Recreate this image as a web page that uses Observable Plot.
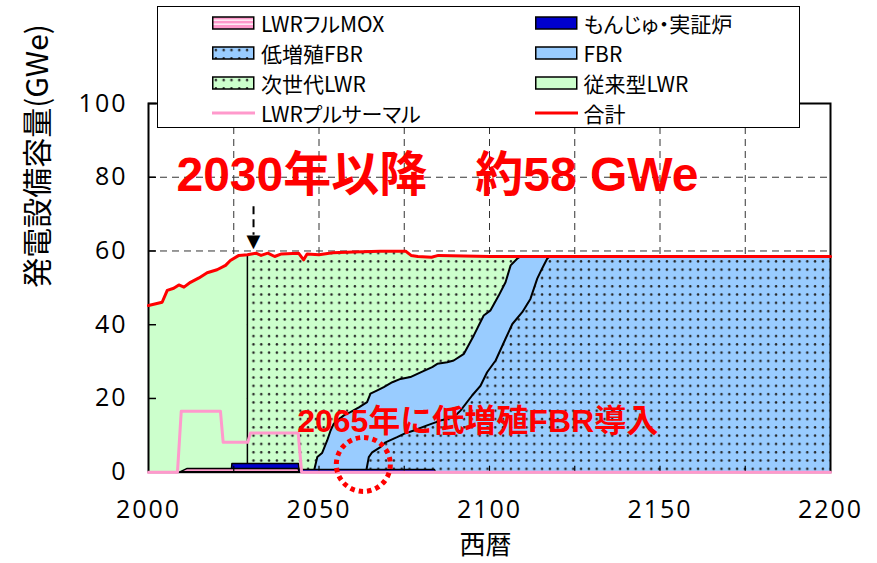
<!DOCTYPE html>
<html>
<head>
<meta charset="utf-8">
<script src="https://cdn.jsdelivr.net/npm/d3@7"></script>
<script src="https://cdn.jsdelivr.net/npm/@observablehq/plot@0.6"></script>
<style>
  body { margin: 0; background: #fff; }
  #wrap { position: relative; width: 877px; height: 563px; overflow: hidden; background: #fff; }
  #chart { position: absolute; left: 0; top: 0; }
  #legend { position: absolute; left: 156.5px; top: 6px; width: 643px; height: 122px; box-sizing: border-box;
            border: 1.5px solid #000; background: #fff; font-family: "Noto Sans CJK JP", sans-serif; font-size: 21px;
            font-feature-settings: "palt"; color: #000; }
  .item { position: absolute; display: flex; align-items: center; height: 20px; white-space: nowrap; }
  .item svg { margin-right: 6px; flex: none; }
  g[aria-label="x-axis tick label"] text, g[aria-label="y-axis tick label"] text { letter-spacing: 2px; }
</style>
</head>
<body>
<svg width="0" height="0" style="position:absolute">
  <defs>
    <pattern id="dotGreen" patternUnits="userSpaceOnUse" width="7.8" height="8.3">
      <rect width="7.8" height="8.3" fill="#CCFFCC"></rect>
      <circle cx="3.9" cy="4.1" r="1.25" fill="#222"></circle>
    </pattern>
    <pattern id="dotBlue" patternUnits="userSpaceOnUse" width="7.8" height="8.3">
      <rect width="7.8" height="8.3" fill="#99CCFF"></rect>
      <circle cx="3.9" cy="4.1" r="1.25" fill="#222"></circle>
    </pattern>
    <pattern id="stripePink" patternUnits="userSpaceOnUse" width="8" height="12">
      <rect width="8" height="12" fill="#FF99CC"></rect>
      <rect y="3.5" width="8" height="1.3" fill="#fff"></rect>
      <rect y="7.5" width="8" height="1.3" fill="#fff"></rect>
    </pattern>
  </defs>
</svg>
<div id="wrap">
  <div id="chart"></div>
  <div id="legend"></div>
</div>
<script>
// ---------------- data ----------------
// 合計 (total capacity, GWe)
const totalYears  = [2000, 2004, 2005.5, 2007.4, 2008.9, 2010.4, 2012.3, 2014.8, 2017.2, 2020.1, 2022.6, 2024, 2026.5, 2029,
                     2031.5, 2033, 2035, 2037, 2039, 2044, 2045.5, 2046.5, 2050, 2054, 2060, 2068, 2075.5, 2077, 2079, 2083, 2085, 2100, 2200];
const totalValues = [45.2, 46.1, 49.3, 49.9, 50.8, 50.2, 51.5, 52.7, 54.1, 54.9, 56.1, 57.4, 58.8, 59.0,
                     59.4, 58.8, 59.4, 58.5, 59.2, 59.4, 57.6, 59.2, 59.0, 59.5, 59.7, 59.9, 59.9, 58.8, 58.5, 58.3, 58.8, 58.5, 58.5];
// 従来型LWR -> 次世代LWR switch year
const lwrSwitchYear = 2029;
// stacked top of FBR (boundary FBR / 次世代LWR)
const fbrTopYears  = [2048.6, 2049.5, 2050.9, 2052.4, 2053.4, 2054.3, 2055.3, 2057.3, 2059.2, 2061.7, 2064.1, 2065.1, 2067.1, 2069.0,
                      2071.5, 2073.9, 2076.8, 2079.8, 2083.2, 2084.7, 2087.6, 2089.5, 2092.5, 2095.4, 2098.3, 2100.3, 2102.7,
                      2104.7, 2106.2, 2108.1, 2109.1, 2200];
const fbrTopValues = [0.6, 4.1, 5.2, 8.6, 11.3, 13.1, 14.0, 15.4, 16.3, 17.6, 19.0, 21.3, 22.2, 23.1,
                      24.4, 25.3, 25.8, 27.1, 28.5, 29.4, 29.8, 30.3, 32.1, 37.1, 42.5, 43.9, 47.9,
                      51.5, 56.1, 57.9, 58.5, 58.5];
// stacked top of 低増殖FBR
const lowFbrTopYears  = [2063.9, 2064.6, 2065.6, 2068.0, 2069.5, 2072.9, 2074.9, 2077.8, 2081.7, 2085.6, 2089.5, 2091.5,
                         2094.9, 2097.4, 2099.3, 2101.8, 2104.7, 2106.7, 2109.6, 2112.0, 2114.0, 2115.4, 2116.9, 2117.6, 2200];
const lowFbrTopValues = [0.6, 4.1, 5.4, 6.8, 8.1, 9.5, 10.4, 11.3, 12.7, 14.0, 14.9, 16.7,
                         20.8, 23.5, 27.1, 30.3, 36.2, 40.2, 43.4, 47.0, 52.5, 55.2, 57.9, 58.5, 58.5];
// stacked top of もんじゅ・実証炉
const monjuTopYears  = [2024.4, 2024.6, 2044.1, 2044.3, 2084.0, 2084.3];
const monjuTopValues = [0, 2.2, 2.2, 0.6, 0.6, 0];
// LWRフルMOX
const moxYears  = [2009.5, 2011.5, 2044.0, 2044.3];
const moxValues = [0, 0.9, 0.9, 0];
// LWRプルサーマル (line)
const pluYears  = [2000, 2008.5, 2009.6, 2021.1, 2021.9, 2029.1, 2029.9, 2043.9, 2044.9, 2200];
const pluValues = [0, 0, 16.5, 16.5, 8.1, 8.1, 10.6, 10.6, 0, 0];

// axes
const xTickLabels = [2000, 2050, 2100, 2150, 2200];
const xMinorTicks = [2025, 2050, 2075, 2100, 2125, 2150, 2175];
const gridYears   = [2025, 2050, 2075, 2100, 2125, 2150, 2175];
const yTicks      = [0, 20, 40, 60, 80, 100];
const gridValues  = [20, 40, 60, 80];
const xTitle = "西暦";
const yTitle = "発電設備容量(GWe)";

// annotations
const noteTexts  = ["2030年以降　約58 GWe", "2065年に低増殖FBR導入"];
const noteYears  = [2008.2, 2043.6];
const noteValues = [76.4, 10.9];
const noteSizes  = [48, 32];
const arrowYear = 2030.8, arrowFrom = 72, arrowTo = 64.3, arrowHeadValue = 62.6;
const circleYear = 2063, circleValue = 2.1;

// legend
const legendLabels = ["LWRフルMOX", "もんじゅ・実証炉", "低増殖FBR", "FBR", "次世代LWR", "従来型LWR", "LWRプルサーマル", "合計"];
const legendFills  = ["url(#stripePink)", "#0000CC", "url(#dotBlue)", "#99CCFF", "url(#dotGreen)", "#CCFFCC", null, null];
const legendLines  = [null, null, null, null, null, null, "#FF99CC", "#FF0000"];

// ---------------- build ----------------
const zip = (xs, vs) => xs.map((x, i) => ({year: x, value: vs[i]}));
const total  = zip(totalYears, totalValues);
const fbrTop = zip(fbrTopYears, fbrTopValues);
const lowTop = zip(lowFbrTopYears, lowFbrTopValues);
const monju  = zip(monjuTopYears, monjuTopValues);
const mox    = zip(moxYears, moxValues);
const plu    = zip(pluYears, pluValues);
const nextGen = total.filter(d => d.year >= lwrSwitchYear);
const conv    = total.filter(d => d.year <= lwrSwitchYear);
const switchTop = total.find(d => d.year === lwrSwitchYear).value;
const notes = noteTexts.map((t, i) => ({text: t, year: noteYears[i], value: noteValues[i], size: noteSizes[i]}));

const bold = '"Liberation Sans", "Noto Sans CJK JP", sans-serif';
const jp = '"Noto Sans CJK JP", sans-serif';

const chart = Plot.plot({
  width: 877,
  height: 563,
  marginLeft: 148,
  marginRight: 47,
  marginTop: 103,
  marginBottom: 91.3,
  x: {domain: [2000, 2200], label: null},
  y: {domain: [0, 100], label: null},
  style: {fontFamily: '"Open Sans", sans-serif', fontSize: "25px", color: "#000", background: "transparent"},
  marks: [
    Plot.ruleX(gridYears, {stroke: "#333", strokeWidth: 1, strokeDasharray: "7,5"}),
    Plot.ruleY(gridValues, {stroke: "#333", strokeWidth: 1, strokeDasharray: "7,5"}),
    // 次世代LWR
    Plot.areaY(nextGen, {x: "year", y1: 0, y2: "value", fill: "url(#dotGreen)", curve: "linear"}),
    // 従来型LWR
    Plot.areaY(conv, {x: "year", y1: 0, y2: "value", fill: "#CCFFCC", curve: "linear"}),
    Plot.ruleX([lwrSwitchYear], {y1: 0, y2: switchTop, stroke: "#000", strokeWidth: 1.5}),
    // FBR
    Plot.areaY(fbrTop, {x: "year", y1: 0, y2: "value", fill: "#99CCFF", curve: "linear"}),
    Plot.line(fbrTop, {x: "year", y: "value", stroke: "#000", strokeWidth: 2}),
    // 低増殖FBR
    Plot.areaY(lowTop, {x: "year", y1: 0, y2: "value", fill: "url(#dotBlue)", curve: "linear"}),
    Plot.line(lowTop, {x: "year", y: "value", stroke: "#000", strokeWidth: 2}),
    // もんじゅ・実証炉
    Plot.areaY(monju, {x: "year", y1: 0, y2: "value", fill: "#0000CC", stroke: "#000", strokeWidth: 1.5}),
    // LWRフルMOX
    Plot.areaY(mox, {x: "year", y1: 0, y2: "value", fill: "#FF99CC", stroke: "#000", strokeWidth: 1.5}),
    Plot.frame({stroke: "#000", strokeWidth: 2}),
    // ticks (inward)
    Plot.axisY({ticks: yTicks, tickSize: 8, dx: 8, tickFormat: () => "", label: null, strokeWidth: 1.5}),
    Plot.axisX({ticks: xMinorTicks, tickSize: 6, dy: -6, tickFormat: () => "", label: null, strokeWidth: 1.2}),
    // tick labels
    Plot.axisY({ticks: yTicks, tickSize: 0, tickPadding: 21, label: null, fill: "#000"}),
    Plot.axisX({ticks: xTickLabels, tickSize: 0, tickPadding: 28, tickFormat: d => String(d), label: null, fill: "#000"}),
    // LWRプルサーマル
    Plot.line(plu, {x: "year", y: "value", stroke: "#FF99CC", strokeWidth: 3}),
    // 合計
    Plot.line(total, {x: "year", y: "value", stroke: "#FF0000", strokeWidth: 3, strokeLinejoin: "round"}),
    // axis titles
    Plot.text([yTitle], {frameAnchor: "left", rotate: -90, dx: -110.5, fontSize: 30, fontFamily: jp, fill: "#000"}),
    Plot.text([xTitle], {frameAnchor: "bottom", dy: 82, dx: -4, fontSize: 26, fontFamily: jp, fill: "#000"}),
    // annotations
    Plot.text(notes, {x: "year", y: "value", text: "text", fontSize: d => d.size, textAnchor: "start", lineAnchor: "bottom",
                      fontWeight: "bold", fontFamily: bold, fill: "#FF0000"}),
    Plot.ruleX([arrowYear], {y1: arrowFrom, y2: arrowTo, stroke: "#000", strokeWidth: 2, strokeDasharray: "8,5"}),
    Plot.text(["▼"], {x: arrowYear, y: arrowHeadValue, fontSize: 18, fontFamily: "DejaVu Sans", fill: "#000", lineAnchor: "middle"}),
    Plot.dot([{year: circleYear, value: circleValue}], {x: "year", y: "value", r: 27, stroke: "#FF0000", strokeWidth: 5,
                      strokeDasharray: "4.5,4", fill: "none"})
  ]
});
document.getElementById("chart").appendChild(chart);

// ---------------- legend ----------------
const legend = d3.select("#legend");
const colLeft = [54.5, 377];
const rowTop = [6, 35.5, 65.5, 95.5];
legendLabels.forEach((label, i) => {
  const col = i % 2, row = Math.floor(i / 2);
  const item = legend.append("div").attr("class", "item")
    .style("left", colLeft[col] + "px").style("top", rowTop[row] + "px");
  const sw = item.append("svg").attr("width", 43).attr("height", 14);
  if (legendLines[i]) {
    sw.append("line").attr("x1", 0).attr("x2", 43).attr("y1", 7).attr("y2", 7)
      .attr("stroke", legendLines[i]).attr("stroke-width", 3);
  } else {
    sw.append("rect").attr("x", 0.75).attr("y", 1).attr("width", 41).attr("height", 12)
      .attr("fill", legendFills[i]).attr("stroke", "#000").attr("stroke-width", 1.5);
  }
  item.append("span").text(label);
});
</script>
</body>
</html>
